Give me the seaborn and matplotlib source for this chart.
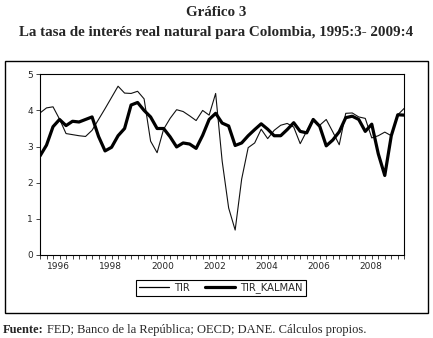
import numpy as np
import pandas as pd
import matplotlib
matplotlib.use('Agg')
import matplotlib.pyplot as plt
import seaborn as sns
from matplotlib.lines import Line2D
from matplotlib.patches import Rectangle

# DATOS (trimestral desde 1995:3)
tir = [3.93, 4.07, 4.10, 3.76, 3.36, 3.33, 3.30, 3.28, 3.45, 3.75,
       4.05, 4.36, 4.67, 4.48, 4.47, 4.53, 4.32, 3.15, 2.83, 3.48,
       3.78, 4.02, 3.97, 3.85, 3.72, 4.00, 3.87, 4.47, 2.60, 1.30,
       0.69, 2.10, 2.97, 3.10, 3.48, 3.22, 3.45, 3.59, 3.64, 3.54,
       3.08, 3.43, 3.77, 3.59, 3.75, 3.41, 3.05, 3.92, 3.93, 3.82,
       3.78, 3.24, 3.30, 3.40, 3.30, 3.88, 4.06]
tir_kalman = [2.74, 3.04, 3.55, 3.75, 3.58, 3.70, 3.68, 3.75, 3.82, 3.28,
              2.88, 2.98, 3.30, 3.50, 4.15, 4.22, 4.00, 3.82, 3.50, 3.50,
              3.27, 2.99, 3.10, 3.07, 2.95, 3.31, 3.75, 3.92, 3.65, 3.57,
              3.03, 3.10, 3.30, 3.47, 3.63, 3.48, 3.30, 3.30, 3.47, 3.66,
              3.42, 3.38, 3.75, 3.56, 3.02, 3.18, 3.41, 3.80, 3.84, 3.75,
              3.42, 3.62, 2.80, 2.20, 3.30, 3.88, 3.87]
inicio = 1995.5
anios = [1996, 1998, 2000, 2002, 2004, 2006, 2008]
y_ticks = [0, 1, 2, 3, 4, 5]

fechas = inicio + 0.25 * np.arange(len(tir))
n = len(tir)
df = pd.DataFrame({
    'fecha': np.concatenate([fechas, fechas]),
    'valor': tir + tir_kalman,
    'serie': ['TIR'] * n + ['TIR_KALMAN'] * n,
})

sns.set_style('white')
plt.rcParams['font.family'] = ['DejaVu Sans']

fig = plt.figure(figsize=(4.33, 3.38), dpi=100)
ax = fig.add_axes([0.0924, 0.2456, 0.8413, 0.5346])

sns.lineplot(data=df, x='fecha', y='valor', hue='serie', size='serie',
             palette={'TIR': '#111111', 'TIR_KALMAN': 'black'},
             sizes={'TIR': 0.8, 'TIR_KALMAN': 2.3},
             legend=False, ax=ax)

ax.set_xlim(fechas[0], fechas[-1])
ax.set_ylim(0, 5)
ax.set_xlabel('')
ax.set_ylabel('')
ax.set_yticks(y_ticks)
ax.set_yticklabels([str(v) for v in y_ticks], fontsize=6.5)
ax.set_xticks([a + 0.2 for a in anios])
ax.set_xticklabels([str(a) for a in anios], fontsize=6.5)
ax.set_xticks(fechas, minor=True)
ax.tick_params(axis='x', which='major', length=0, pad=5)
ax.tick_params(axis='x', which='minor', direction='out', length=3, width=0.6, bottom=True)
ax.tick_params(axis='y', direction='out', length=3, width=0.6, pad=2, left=True)
for s in ax.spines.values():
    s.set_color('black')
    s.set_linewidth(0.8)

# leyenda
handles = [Line2D([0], [0], color='black', lw=0.9),
           Line2D([0], [0], color='black', lw=2.3)]
leg = fig.legend(handles, ['TIR', 'TIR_KALMAN'], loc='center', bbox_to_anchor=(0.51, 0.148),
                 ncol=2, frameon=True, fancybox=False, edgecolor='black', framealpha=1,
                 handlelength=3.0, columnspacing=1.6, borderpad=0.3, handletextpad=0.5,
                 fontsize=7.2)
leg.get_frame().set_linewidth(0.8)

# marco exterior
fig.patches.append(Rectangle((0.0104, 0.074), 0.977, 0.7455, transform=fig.transFigure,
                             fill=False, edgecolor='black', linewidth=1))

# titulos
fig.text(0.5, 0.962, 'Gráfico 3', ha='center', va='center', fontsize=10.8,
         fontweight='bold', family='Liberation Serif')
fig.text(0.5, 0.905, 'La tasa de interés real natural para Colombia, 1995:3- 2009:4',
         ha='center', va='center', fontsize=10.8, fontweight='bold', family='Liberation Serif')

# fuente
t = fig.text(0.006, 0.025, 'Fuente:', ha='left', va='center', fontsize=9,
             fontweight='bold', family='Liberation Serif')
renderer = fig.canvas.get_renderer()
bb = t.get_window_extent(renderer).transformed(fig.transFigure.inverted())
fig.text(bb.x1 + 0.008, 0.025, 'FED; Banco de la República; OECD; DANE. Cálculos propios.',
         ha='left', va='center', fontsize=9, family='Liberation Serif')

fig.savefig('out.png', dpi=100)
